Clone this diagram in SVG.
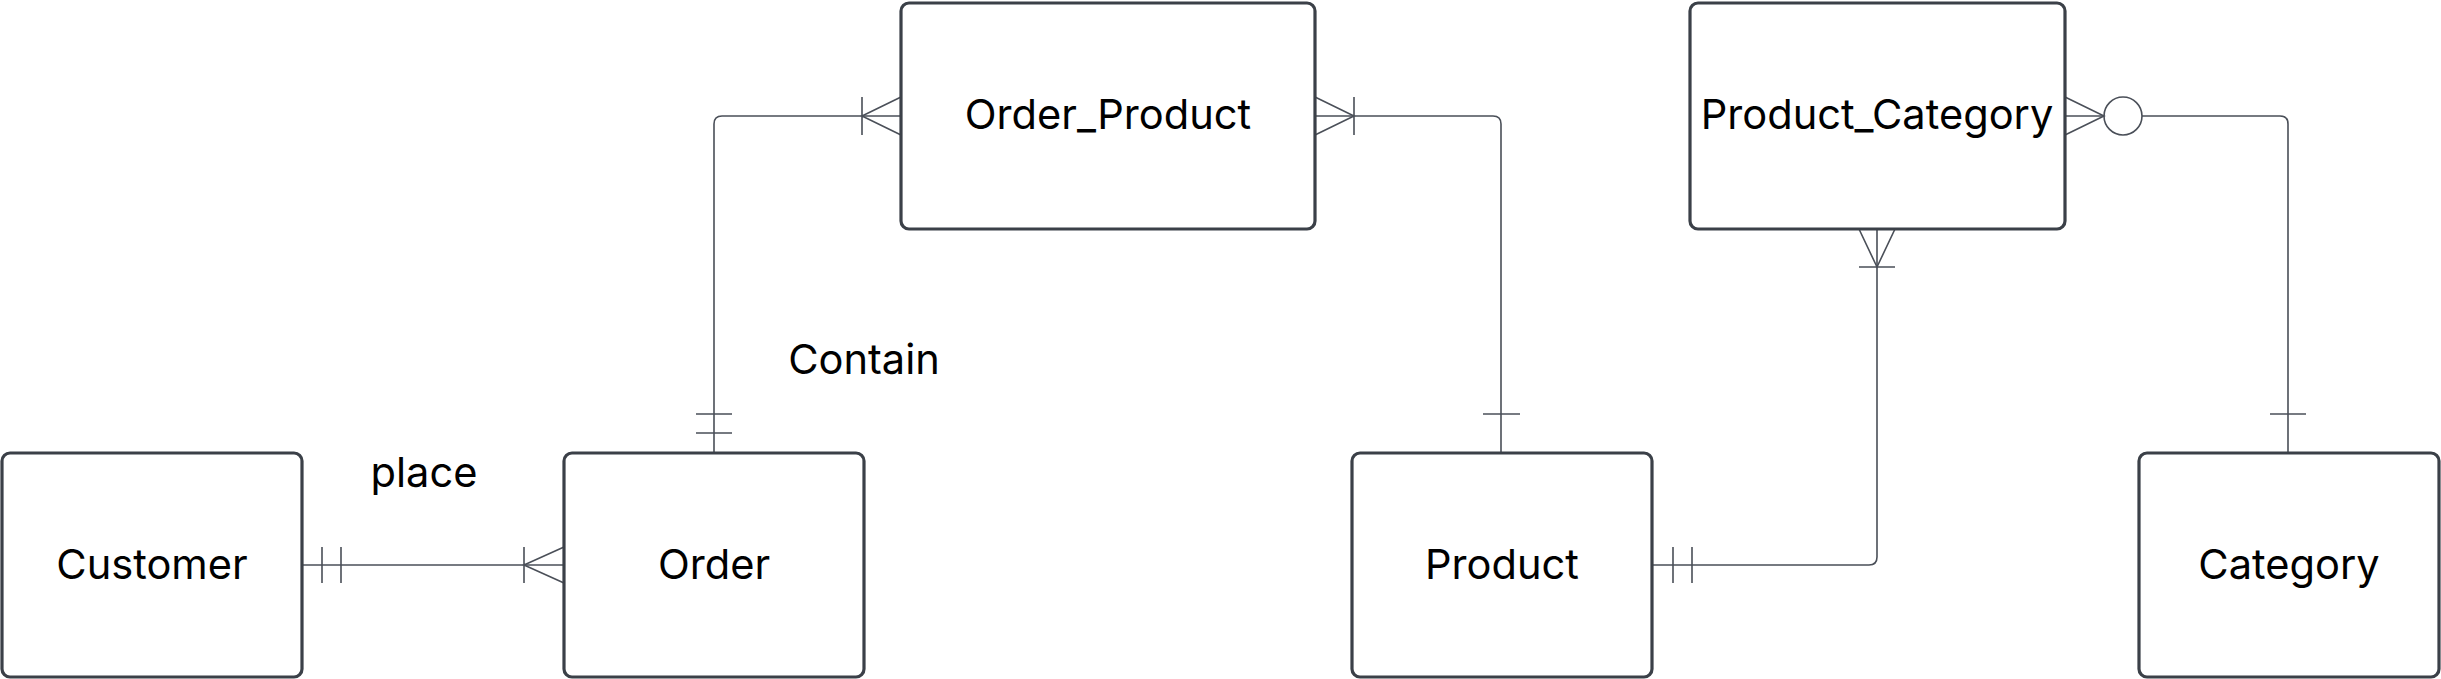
<svg xmlns="http://www.w3.org/2000/svg" width="2441" height="679" viewBox="0 0 2441 679">
<style>
.box{fill:#ffffff;stroke:#3b4048;stroke-width:3.2}
.lbl{font-family:Inter,"Liberation Sans",sans-serif;font-size:41.6px;fill:#000000;text-anchor:middle;dominant-baseline:central}
.ln{fill:none;stroke:#4a4f58;stroke-width:1.6}
</style>
<rect width="2441" height="679" fill="#ffffff"/>
<g id="connectors">
  <g id="c-customer-order">
    <path class="ln" d="M302,565 H564"/>
    <path class="ln" d="M322,547 V583 M341,547 V583"/>
    <path class="ln" d="M524,547 V583 M564,547 L524,565 L564,583"/>
  </g>
  <g id="c-order-orderproduct">
    <path class="ln" d="M714,453 V124 Q714,116 722,116 H901"/>
    <path class="ln" d="M696,414 H732 M696,433 H732"/>
    <path class="ln" d="M862,97 V135 M901,97 L862,116 L901,135"/>
  </g>
  <g id="c-orderproduct-product">
    <path class="ln" d="M1315,116 H1493 Q1501,116 1501,124 V453"/>
    <path class="ln" d="M1354,97 V135 M1315,97 L1354,116 L1315,135"/>
    <path class="ln" d="M1483,414 H1520"/>
  </g>
  <g id="c-product-productcategory">
    <path class="ln" d="M1652,565 H1869 Q1877,565 1877,557 V229"/>
    <path class="ln" d="M1673,547 V583 M1692,547 V583"/>
    <path class="ln" d="M1859,267 H1895 M1859,229 L1877,267 L1895,229"/>
  </g>
  <g id="c-productcategory-category">
    <path class="ln" d="M2065,116 H2104"/>
    <path class="ln" d="M2065,97 L2104,116 L2065,135"/>
    <circle class="ln" cx="2123" cy="116" r="19"/>
    <path class="ln" d="M2142,116 H2280 Q2288,116 2288,124 V453"/>
    <path class="ln" d="M2270,414 H2306"/>
  </g>
  <text class="lbl" x="424" y="472">place</text>
  <text class="lbl" x="864" y="359">Contain</text>
</g>
<g id="customer">
  <rect class="box" x="2" y="453" width="300" height="224" rx="8"/>
  <text class="lbl" x="152" y="564">Customer</text>
</g>
<g id="order">
  <rect class="box" x="564" y="453" width="300" height="224" rx="8"/>
  <text class="lbl" x="714" y="564">Order</text>
</g>
<g id="order_product">
  <rect class="box" x="901" y="3" width="414" height="226" rx="8"/>
  <text class="lbl" x="1108" y="114">Order_Product</text>
</g>
<g id="product">
  <rect class="box" x="1352" y="453" width="300" height="224" rx="8"/>
  <text class="lbl" x="1502" y="564">Product</text>
</g>
<g id="product_category">
  <rect class="box" x="1690" y="3" width="375" height="226" rx="8"/>
  <text class="lbl" x="1877" y="114">Product_Category</text>
</g>
<g id="category">
  <rect class="box" x="2139" y="453" width="300" height="224" rx="8"/>
  <text class="lbl" x="2289" y="564">Category</text>
</g>
</svg>
